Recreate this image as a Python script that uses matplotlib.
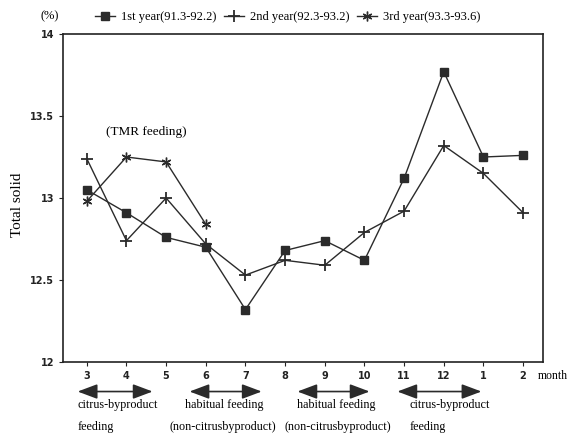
import numpy as np
import matplotlib.pyplot as plt

months = ["3", "4", "5", "6", "7", "8", "9", "10", "11", "12", "1", "2"]
year1 = [13.05, 12.91, 12.76, 12.70, 12.32, 12.68, 12.74, 12.62, 13.12, 13.77, 13.25, 13.26]
year2 = [13.24, 12.74, 13.00, 12.72, 12.53, 12.62, 12.59, 12.79, 12.92, 13.32, 13.15, 12.91]
year3 = [12.98, 13.25, 13.22, 12.84]
labels = ["1st year(91.3-92.2)", "2nd year(92.3-93.2)", "3rd year(93.3-93.6)"]

# feeding periods below the axis
arrow_spans = [(-0.23, 1.66), (2.59, 4.41), (5.31, 7.13), (7.83, 9.95)]
period_line1 = ["citrus-byproduct", "habitual feeding", "habitual feeding", "citrus-byproduct"]
period_line2 = ["feeding", "(non-citrusbyproduct)", "(non-citrusbyproduct)", "feeding"]
line1_x = [-0.23, 2.47, 5.31, 8.14]
line2_x = [-0.23, 2.09, 4.99, 8.14]

serif = "Liberation Serif"
col = "#2b2b2b"

fig = plt.figure(figsize=(5.7, 4.36), dpi=100)
ax = fig.add_axes([0.1105, 0.1697, 0.842, 0.7523])

x = np.arange(len(months))
ax.plot(x, year1, color=col, lw=1.0, marker="s", ms=6, mfc=col, mec=col, label=labels[0])
ax.plot(x, year2, color=col, lw=1.0, marker="+", ms=8, mew=1.3, label=labels[1])
ax.plot(x[:len(year3)], year3, color=col, lw=1.0, marker=(6, 2, 0), ms=7, mew=1.0, label=labels[2])

ax.set_xlim(-0.6, 11.5)
ax.set_ylim(12, 14)
ax.set_xticks(x)
ax.set_xticklabels(months)
ax.set_yticks([12, 12.5, 13, 13.5, 14])
ax.set_yticklabels(["12", "12.5", "13", "13.5", "14"])
ax.tick_params(axis="both", labelsize=7, length=3, width=0.8, colors="#222222")
for lab in ax.get_xticklabels() + ax.get_yticklabels():
    lab.set_fontweight("bold")
for sp in ax.spines.values():
    sp.set_linewidth(1.2)
    sp.set_color("#222222")

ax.set_ylabel("Total solid", fontfamily=serif, fontsize=11)
ax.yaxis.set_label_coords(-0.082, 0.48)
ax.text(1.5, 13.4, "(TMR feeding)", fontfamily=serif, fontsize=9.5, ha="center", va="center")

fig.legend(loc="center", bbox_to_anchor=(0.505, 0.961), ncol=3, frameon=False,
           prop={"family": serif, "size": 9}, handlelength=1.6, handletextpad=0.5,
           columnspacing=0.6)
fig.text(0.088, 0.963, "(%)", fontfamily=serif, fontsize=9, ha="center", va="center")
fig.text(0.943, 0.137, "month", fontfamily=serif, fontsize=8.5, ha="left", va="center")

trans = ax.get_xaxis_transform()
for i, (x0, x1) in enumerate(arrow_spans):
    ax.annotate("", xy=(x0, -0.09), xytext=(x1, -0.09), xycoords=trans, textcoords=trans,
                arrowprops=dict(arrowstyle="<|-|>,head_length=1.2,head_width=0.45",
                                color=col, lw=1.2, shrinkA=0, shrinkB=0),
                annotation_clip=False)
    ax.text(line1_x[i], -0.13, period_line1[i], transform=trans, fontfamily=serif,
            fontsize=8.7, ha="left", va="center", clip_on=False)
    ax.text(line2_x[i], -0.197, period_line2[i], transform=trans, fontfamily=serif,
            fontsize=8.7, ha="left", va="center", clip_on=False)

fig.savefig("out.png", dpi=100)
